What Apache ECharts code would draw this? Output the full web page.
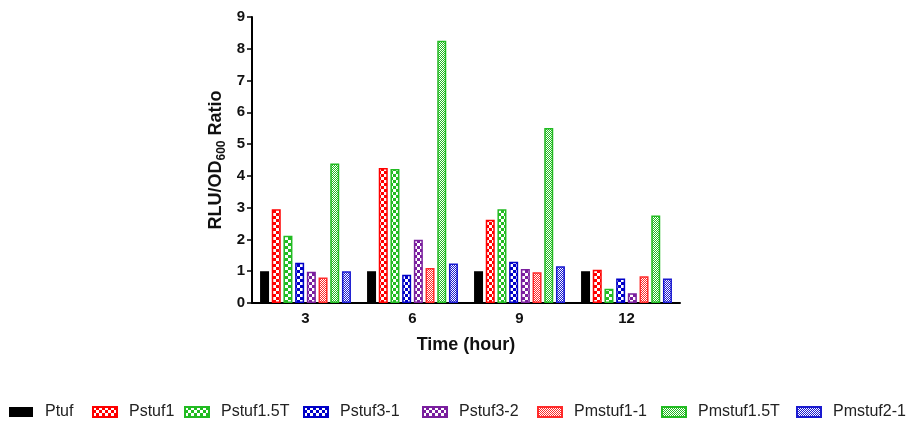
<!DOCTYPE html>
<html>
<head>
<meta charset="utf-8">
<script src="https://cdn.jsdelivr.net/npm/echarts@6/dist/echarts.min.js"></script>
<style>
  html, body { margin: 0; padding: 0; background: #fff; }
  #chart-container { width: 910px; height: 424px; }
</style>
</head>
<body>
<div id="chart-container"></div>
<script>
var categories = ['3', '6', '9', '12'];
var seriesNames = ['Ptuf', 'Pstuf1', 'Pstuf1.5T', 'Pstuf3-1', 'Pstuf3-2', 'Pmstuf1-1', 'Pmstuf1.5T', 'Pmstuf2-1'];
var ptuf      = [1.0, 1.0, 1.0, 1.0];
var pstuf1    = [2.95, 4.25, 2.62, 1.05];
var pstuf15T  = [2.12, 4.22, 2.95, 0.45];
var pstuf31   = [1.27, 0.89, 1.30, 0.77];
var pstuf32   = [0.98, 1.99, 1.07, 0.31];
var pmstuf11  = [0.80, 1.10, 0.97, 0.84];
var pmstuf15T = [4.39, 8.25, 5.51, 2.75];
var pmstuf21  = [1.00, 1.24, 1.16, 0.77];
var yTicks = [0, 1, 2, 3, 4, 5, 6, 7, 8, 9];

var values = [ptuf, pstuf1, pstuf15T, pstuf31, pstuf32, pmstuf11, pmstuf15T, pmstuf21];
var colors = ['#000000', '#ff0000', '#22bb22', '#0000c8', '#7a1f9e', '#ff2a2a', '#22bb22', '#1a1ad0'];
var kinds  = ['solid', 'coarse', 'coarse', 'coarse', 'coarse', 'fine', 'fine', 'fine'];

// small checker tiles used as bar fills
function makePattern(color, kind) {
  var c = document.createElement('canvas');
  var cell = kind === 'coarse' ? 3 : 1;
  c.width = cell * 2;
  c.height = cell * 2;
  var ctx = c.getContext('2d');
  ctx.fillStyle = color;
  ctx.fillRect(0, 0, c.width, c.height);
  ctx.fillStyle = '#ffffff';
  ctx.fillRect(0, 0, cell, cell);
  ctx.fillRect(cell, cell, cell, cell);
  return { image: c, repeat: 'repeat' };
}

var dom = document.getElementById('chart-container');
var myChart = echarts.init(dom, null, { renderer: 'canvas' });

var series = seriesNames.map(function (name, i) {
  var solid = kinds[i] === 'solid';
  return {
    name: name,
    type: 'bar',
    data: values[i],
    barWidth: 9,
    barGap: '30%',
    animation: false,
    itemStyle: {
      color: solid ? colors[i] : makePattern(colors[i], kinds[i]),
      borderColor: colors[i],
      borderWidth: solid ? 0 : 1.5
    }
  };
});

// legend items placed one by one, like the original
var legendLeft = [4, 87, 179, 298, 417, 532, 656, 791];
var legends = seriesNames.map(function (name, i) {
  return {
    data: [name],
    left: legendLeft[i],
    top: 399,
    icon: 'rect',
    itemWidth: 24,
    itemHeight: 10,
    textStyle: {
      fontFamily: 'Liberation Sans, Arial, sans-serif',
      fontSize: 16,
      color: '#222',
      padding: [0, 0, 0, 7]
    },
    selectedMode: false
  };
});

var option = {
  backgroundColor: '#fff',
  animation: false,
  grid: { left: 252, right: 230, top: 17, bottom: 121 },
  legend: legends,
  xAxis: {
    type: 'category',
    data: categories,
    name: 'Time (hour)',
    nameLocation: 'middle',
    nameGap: 33,
    nameTextStyle: {
      fontFamily: 'Liberation Sans, Arial, sans-serif',
      fontSize: 18,
      fontWeight: 'bold',
      color: '#111'
    },
    axisLine: { lineStyle: { color: '#000', width: 2 } },
    axisTick: { alignWithLabel: true, length: 5, lineStyle: { color: '#000', width: 1.5 } },
    axisLabel: {
      margin: 8,
      fontFamily: 'Liberation Sans, Arial, sans-serif',
      fontSize: 15,
      fontWeight: 'bold',
      color: '#111'
    }
  },
  yAxis: {
    type: 'value',
    min: yTicks[0],
    max: yTicks[yTicks.length - 1],
    interval: 1,
    name: '{a|RLU/OD}{b|600}{a| Ratio}',
    nameLocation: 'middle',
    nameGap: 24,
    nameTextStyle: {
      rich: {
        a: { fontFamily: 'Liberation Sans, Arial, sans-serif', fontSize: 18, fontWeight: 'bold', color: '#111', lineHeight: 24 },
        b: { fontFamily: 'Liberation Sans, Arial, sans-serif', fontSize: 12, fontWeight: 'bold', color: '#111', lineHeight: 14, verticalAlign: 'bottom' }
      }
    },
    axisLine: { show: true, lineStyle: { color: '#000', width: 2 } },
    axisTick: { show: true, length: 5, lineStyle: { color: '#000', width: 1.5 } },
    splitLine: { show: false },
    axisLabel: {
      margin: 7,
      fontFamily: 'Liberation Sans, Arial, sans-serif',
      fontSize: 15,
      fontWeight: 'bold',
      color: '#111'
    }
  },
  series: series
};

myChart.setOption(option);
window.addEventListener('resize', myChart.resize);
</script>
</body>
</html>
